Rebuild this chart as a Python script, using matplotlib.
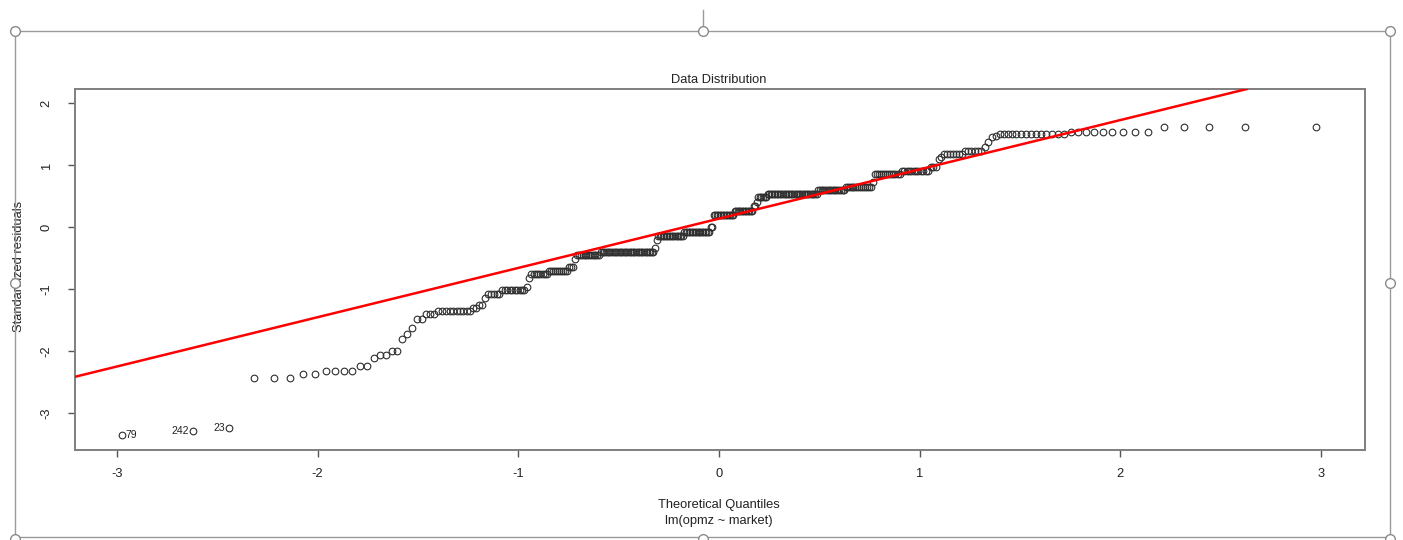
import matplotlib
matplotlib.use("Agg")
import matplotlib.pyplot as plt
import numpy as np
from statistics import NormalDist

plt.rcParams.update({
    "font.family": ["Liberation Sans", "DejaVu Sans"],
    "axes.unicode_minus": False,
})

# sorted standardized residuals, stored as (level, how many points sit on it)
resid_levels = [
    -3.35, -3.29, -3.24, -2.44, -2.37, -2.32, -2.24, -2.11, -2.07, -2.06,
    -2.00, -1.80, -1.73, -1.63, -1.49, -1.41, -1.355, -1.30, -1.26, -1.15,
    -1.085, -1.016, -0.97, -0.83, -0.758, -0.705, -0.65, -0.52, -0.45, -0.40,
    -0.34, -0.21, -0.145, -0.075, -0.005, 0.19, 0.26, 0.34, 0.41, 0.48,
    0.54, 0.597, 0.65, 0.73, 0.85, 0.91, 0.97, 1.10, 1.13, 1.18,
    1.23, 1.295, 1.365, 1.45, 1.47, 1.50, 1.54, 1.62,
]
resid_counts = [
    1, 1, 1, 3, 2, 4, 2, 1, 1, 1,
    2, 1, 1, 1, 2, 3, 10, 2, 2, 1,
    5, 10, 1, 1, 8, 10, 3, 1, 13, 33,
    1, 1, 17, 18, 2, 14, 13, 2, 1, 6,
    32, 16, 14, 1, 13, 12, 3, 1, 1, 7,
    6, 1, 1, 1, 1, 14, 9, 5,
]

# labelled outliers (the three lowest residuals) and on which side the id sits
outlier_ids = ["79", "242", "23"]
outlier_side = ["right", "left", "left"]

# reference line: intercept, slope
line_intercept = 0.135
line_slope = 0.795

x_ticks = [-3, -2, -1, 0, 1, 2, 3]
y_ticks = [-3, -2, -1, 0, 1, 2]

W, H = 1403, 540


def fig_xy(px, py):
    """pixel position -> figure fraction"""
    return px / W, 1 - py / H


def main():
    resid = np.repeat(resid_levels, resid_counts)
    n = len(resid)
    probs = (np.arange(1, n + 1) - 0.5) / n
    theo = np.array([NormalDist().inv_cdf(p) for p in probs])
    # normal quantiles for the sample positions (qqnorm)

    fig = plt.figure(figsize=(W / 100, H / 100), dpi=100)
    fig.patch.set_facecolor("white")
    ax = fig.add_axes([75 / W, 1 - 450 / H, (1365 - 75) / W, (450 - 89) / H])

    ax.plot(theo, resid, "o", ms=4.8, mfc="none", mec="#2e2e2e", mew=0.8,
            zorder=3)
    ax.axline((0, line_intercept), slope=line_slope, color="red", lw=1.8,
              zorder=4)

    for i, (lab, side) in enumerate(zip(outlier_ids, outlier_side)):
        dx = 2.5 if side == "right" else -3.0
        ax.annotate(lab, (theo[i], resid[i]), xytext=(dx, 0),
                    textcoords="offset points", fontsize=7.5,
                    ha="left" if side == "right" else "right", va="center",
                    color="#222222")

    ax.set_xlim(-3.209, 3.219)
    ax.set_ylim(-3.597, 2.226)
    ax.set_xticks(x_ticks)
    ax.set_yticks(y_ticks)
    ax.tick_params(axis="both", direction="out", length=5, width=1,
                   color="#555555", labelsize=9.3, labelcolor="#222222")
    ax.tick_params(axis="x", pad=8)
    ax.tick_params(axis="y", pad=11, labelrotation=90)
    for lab in ax.get_yticklabels():
        lab.set_verticalalignment("center")
    for sp in ax.spines.values():
        sp.set_color("#7f7f7f")
        sp.set_linewidth(1.4)

    fig.text(*fig_xy(719, 80), "Data Distribution", ha="center", va="center",
             fontsize=9.3, color="#222222")
    fig.text(*fig_xy(719, 505), "Theoretical Quantiles", ha="center",
             va="center", fontsize=9.3, color="#222222")
    fig.text(*fig_xy(719, 521), "lm(opmz ~ market)", ha="center",
             va="center", fontsize=9.3, color="#222222")
    fig.text(*fig_xy(19, 266), "Standardized residuals", ha="center",
             va="center", rotation=90, fontsize=9.3, color="#222222")

    # selection frame of the pasted picture, with its handles
    frame = dict(color="#9a9a9a", lw=1.0, zorder=10)
    left, right, top, bottom = 15, 1390, 31, 537
    for xs, ys in [((left, right), (top, top)), ((left, right), (bottom, bottom)),
                   ((left, left), (top, bottom)), ((right, right), (top, bottom)),
                   ((703, 703), (10, top))]:
        p0, p1 = fig_xy(xs[0], ys[0]), fig_xy(xs[1], ys[1])
        fig.add_artist(plt.Line2D([p0[0], p1[0]], [p0[1], p1[1]],
                                  transform=fig.transFigure, **frame))
    for hx, hy in [(left, top), (703, top), (right, top), (left, 283),
                   (right, 283), (left, 539), (703, 539), (right, 539)]:
        cx, cy = fig_xy(hx, hy)
        fig.add_artist(plt.Line2D([cx], [cy], marker="o", ms=7, mfc="white",
                                  mec="#8a8a8a", mew=1.0,
                                  transform=fig.transFigure, zorder=11))

    fig.savefig("out.png", dpi=100, facecolor="white")


if __name__ == "__main__":
    main()
